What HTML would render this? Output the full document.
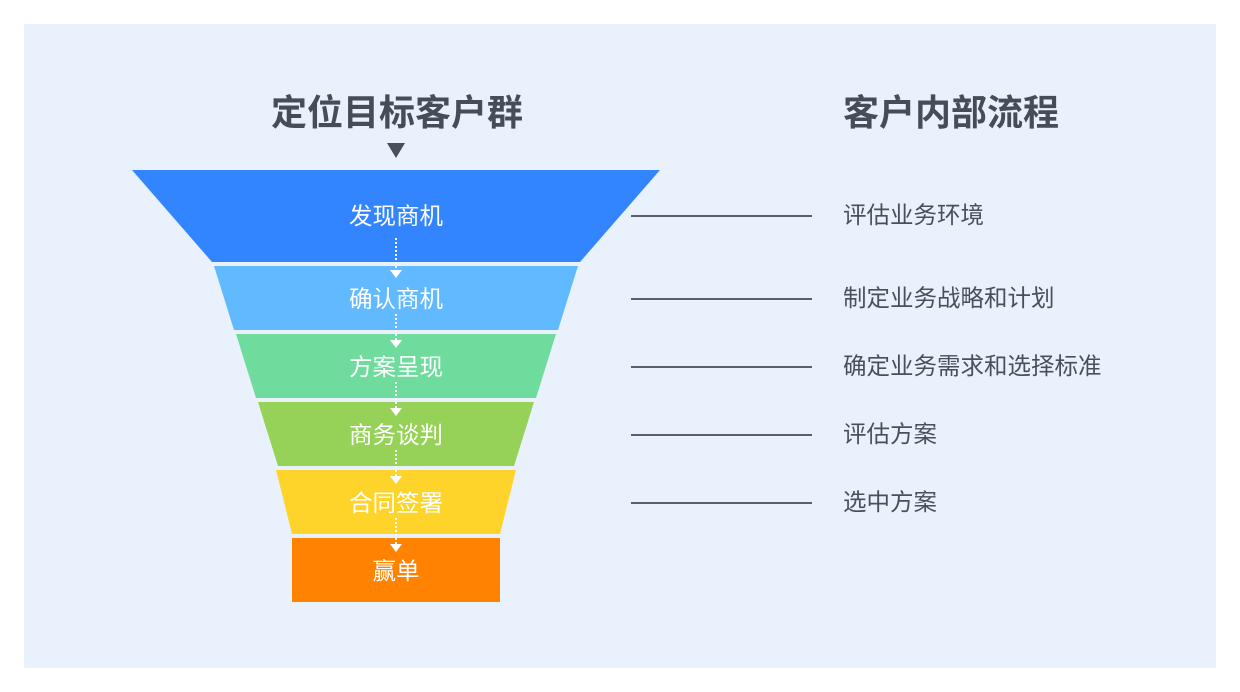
<!DOCTYPE html>
<html><head><meta charset="utf-8"><style>
body{margin:0;background:#fff;width:1240px;height:692px;position:relative;overflow:hidden;font-family:"Liberation Sans","Noto Sans CJK SC",sans-serif}
.panel{position:absolute;left:24px;top:24px;width:1192px;height:644px;background:#e9f1fc}
.t{position:absolute;font-size:36px;font-weight:bold;color:#474d57;top:91px;line-height:44px}
.r{position:absolute;left:843px;font-size:23.5px;color:#4a505a;line-height:28px}
.ln{position:absolute;left:631px;width:181px;height:2px;background:#5a5f68}
</style></head><body>
<div class="panel"></div>
<div class="t" style="left:271px">定位目标客户群</div>
<div class="t" style="left:843px">客户内部流程</div>
<svg width="1240" height="692" style="position:absolute;left:0;top:0">
<polygon points="387,143 405,143 396,158" fill="#4a505a"/>
<polygon points="132,170 660,170 580,262 212,262" fill="#3385ff"/>
<polygon points="214,266 578,266 558,330 234,330" fill="#61b9ff"/>
<polygon points="236,334 556,334 536,398 256,398" fill="#6fdc9e"/>
<polygon points="258,402 534,402 514,466 278,466" fill="#96d158"/>
<polygon points="276,470 516,470 500,534 292,534" fill="#ffd42a"/>
<rect x="292" y="538" width="208" height="64" fill="#ff8200"/>
<g stroke="#fff" stroke-width="2" stroke-dasharray="2,2">
<line x1="396" y1="238" x2="396" y2="270"/>
<line x1="396" y1="314" x2="396" y2="340"/>
<line x1="396" y1="382" x2="396" y2="408"/>
<line x1="396" y1="450" x2="396" y2="476"/>
<line x1="396" y1="518" x2="396" y2="544"/>
</g>
<g fill="#fff">
<polygon points="390,270 402,270 396,278"/>
<polygon points="390,340 402,340 396,348"/>
<polygon points="390,408 402,408 396,416"/>
<polygon points="390,476 402,476 396,484"/>
<polygon points="390,544 402,544 396,552"/>
</g>
<g fill="#fff" font-size="23.5" text-anchor="middle" font-family="Liberation Sans,Noto Sans CJK SC,sans-serif">
<text x="396" y="224">发现商机</text>
<text x="396" y="307">确认商机</text>
<text x="396" y="375">方案呈现</text>
<text x="396" y="443">商务谈判</text>
<text x="396" y="511">合同签署</text>
<text x="396" y="579">赢单</text>
</g>
</svg>
<div class="ln" style="top:215px"></div>
<div class="ln" style="top:298px"></div>
<div class="ln" style="top:366px"></div>
<div class="ln" style="top:434px"></div>
<div class="ln" style="top:502px"></div>
<div class="r" style="top:201px">评估业务环境</div>
<div class="r" style="top:284px">制定业务战略和计划</div>
<div class="r" style="top:352px">确定业务需求和选择标准</div>
<div class="r" style="top:420px">评估方案</div>
<div class="r" style="top:488px">选中方案</div>
</body></html>
